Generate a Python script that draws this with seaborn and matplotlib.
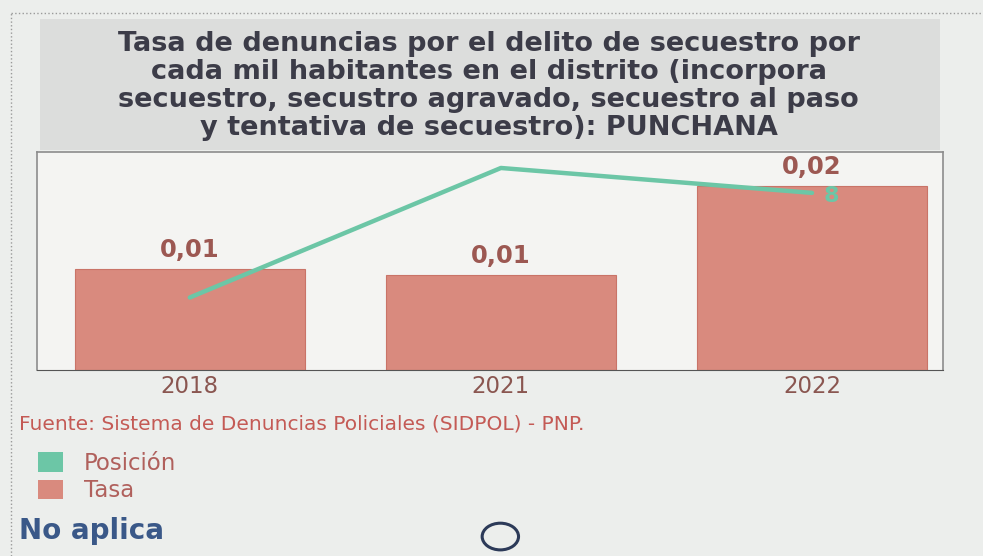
import matplotlib
matplotlib.use('Agg')
import matplotlib.pyplot as plt
import seaborn as sns
import pandas as pd
from matplotlib.patches import Rectangle, Patch, Ellipse

# values
years = ['2018', '2021', '2022']
tasa = [0.0105, 0.0099, 0.0192]
tasa_labels = ['0,01', '0,01', '0,02']
posicion = [12.2, 7.0, 8.0]
posicion_labels = ['', '', '8']

title = ('Tasa de denuncias por el delito de secuestro por\n'
         'cada mil habitantes en el distrito (incorpora\n'
         'secuestro, secustro agravado, secuestro al paso\n'
         'y tentativa de secuestro): PUNCHANA')
fuente = 'Fuente: Sistema de Denuncias Policiales (SIDPOL) - PNP.'

bar_color = '#d98a7e'
line_color = '#6cc6a6'
bg = '#eceeec'

df = pd.DataFrame({'year': years, 'tasa': tasa, 'posicion': posicion})

sns.set_style('white')
plt.rcParams['font.family'] = ['DejaVu Sans']

fig = plt.figure(figsize=(9.83, 5.56), dpi=100, facecolor=bg)

# outer dotted frame
fig.add_artist(plt.Line2D([0.011, 0.011], [0.0, 0.977], transform=fig.transFigure,
                          color='#9a9a9a', lw=1, ls=':'))
fig.add_artist(plt.Line2D([0.011, 1.0], [0.977, 0.977], transform=fig.transFigure,
                          color='#9a9a9a', lw=1, ls=':'))

# title band
fig.patches.append(Rectangle((0.041, 0.730), 0.915, 0.236, transform=fig.transFigure,
                             facecolor='#dcdddc', edgecolor='none', zorder=0))
fig.text(0.497, 0.944, title, ha='center', va='top', fontsize=19.5, fontweight='bold',
         color='#3c3c48', linespacing=1.1)

ax = fig.add_axes([0.038, 0.335, 0.921, 0.392])
ax.set_facecolor('#f4f4f2')
sns.barplot(data=df, x='year', y='tasa', color=bar_color, width=0.74,
            edgecolor='#c97468', linewidth=0.8, saturation=1, ax=ax)
ax.set_ylim(0, 0.0228)
ax.set_xlim(-0.49, 2.42)
ax.bar_label(ax.containers[0], labels=tasa_labels, padding=5, fontsize=17.5,
             fontweight='bold', color='#9c5852')
ax.set_xlabel('')
ax.set_ylabel('')
ax.set_yticks([])
ax.set_xticks(range(len(years)))
ax.set_xticklabels(years, fontsize=16.5, color='#8a5650')
ax.tick_params(axis='x', length=0, pad=4)
ax.set_xticks([0.5, 1.5], minor=True)
ax.tick_params(axis='x', which='minor', length=8, color='#555555', width=1)
for side in ['top', 'right', 'left']:
    ax.spines[side].set_color('#8c8c8c')
    ax.spines[side].set_linewidth(1.2)
ax.spines['bottom'].set_color('#555555')

ax2 = ax.twinx()
sns.lineplot(data=df, x='year', y='posicion', color=line_color, linewidth=3.2,
             ax=ax2, legend=False)
ax2.set_ylim(15.1, 6.35)
ax2.set_yticks([])
ax2.set_ylabel('')
for side in ['top', 'right', 'left', 'bottom']:
    ax2.spines[side].set_visible(False)
for i, lab in enumerate(posicion_labels):
    if lab:
        ax2.annotate(lab, (i, posicion[i]), xytext=(14, -2), textcoords='offset points',
                     ha='center', va='center', fontsize=16, fontweight='bold',
                     color=line_color)

fig.text(0.019, 0.237, fuente, fontsize=14.5, color='#c45a55', va='center')

handles = [Patch(facecolor=line_color, edgecolor='none'),
           Patch(facecolor=bar_color, edgecolor='none')]
fig.legend(handles, ['Posición', 'Tasa'], loc='upper left', bbox_to_anchor=(0.027, 0.208),
           frameon=False, fontsize=16.5, labelcolor='#b0605c', handlelength=1.1,
           handleheight=0.95, handletextpad=0.9, labelspacing=0.2, borderpad=0)

fig.text(0.019, 0.045, 'No aplica', fontsize=20, fontweight='bold', color='#3a5888',
         va='center')
fig.patches.append(Ellipse((0.509, 0.035), 0.037, 0.048, transform=fig.transFigure,
                           facecolor='none', edgecolor='#2c3a58', linewidth=2.2))

fig.savefig('out.png', dpi=100, facecolor=bg)
